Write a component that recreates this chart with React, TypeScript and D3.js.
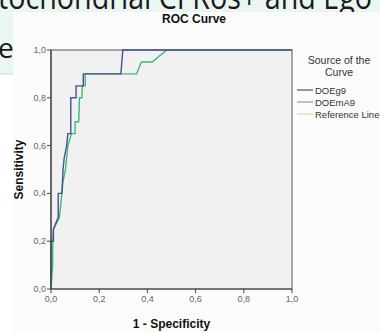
import * as d3 from 'd3';

// ROC data: [1 - specificity, sensitivity]
const doeg9: [number, number][] = [
  [0, 0], [0, 0.2], [0.01, 0.2], [0.01, 0.25], [0.03, 0.3], [0.03, 0.4],
  [0.045, 0.4], [0.05, 0.5], [0.055, 0.55], [0.065, 0.6], [0.07, 0.65],
  [0.082, 0.65], [0.082, 0.8], [0.104, 0.8], [0.104, 0.85], [0.134, 0.85],
  [0.134, 0.9], [0.29, 0.9], [0.298, 1.0], [1, 1],
];

const doema9: [number, number][] = [
  [0, 0], [0.007, 0.1], [0.007, 0.2], [0.01, 0.25], [0.035, 0.3],
  [0.045, 0.4], [0.05, 0.45], [0.06, 0.5], [0.07, 0.6], [0.085, 0.65],
  [0.1, 0.65], [0.1, 0.7], [0.115, 0.7], [0.118, 0.8], [0.128, 0.8],
  [0.13, 0.85], [0.142, 0.85], [0.142, 0.9], [0.355, 0.9], [0.375, 0.95],
  [0.42, 0.95], [0.48, 1.0], [1, 1],
];

const tickValues = [0, 0.2, 0.4, 0.6, 0.8, 1.0];
const legendTitle = ['Source of the', 'Curve'];
const legendItems = [
  { label: 'DOEg9', color: '#555' },
  { label: 'DOEmA9', color: '#9a9a9a' },
  { label: 'Reference Line', color: '#d8dca0' },
];

const W = 380;
const H = 332;
const plot = { left: 51, right: 292, top: 50, bottom: 289 };

const fmt = (v: number) => d3.format('.1f')(v).replace('.', ',');

export default function App() {
  const x = d3.scaleLinear().domain([0, 1]).range([plot.left, plot.right]);
  const y = d3.scaleLinear().domain([0, 1]).range([plot.bottom, plot.top]);
  const line = d3.line<[number, number]>().x(d => x(d[0])).y(d => y(d[1]));

  const font = '"Liberation Sans", Arial, sans-serif';

  return (
    <svg width={W} height={H} style={{ position: 'absolute', left: 0, top: 0 }}>
      {/* slide background */}
      <rect x={0} y={0} width={W} height={H} fill="#fff" />
      <rect x={0} y={0} width={W} height={12} fill="#e9f6f2" />
      <rect x={0} y={0} width={13} height={74} fill="#e9f6f2" />
      <line x1={0} x2={13} y1={74} y2={74} stroke="#cde9e1" strokeWidth={1.5} />
      <text x={-2} y={9} fontFamily='"Open Sans", sans-serif' fontSize={32}
        fill="#1a1a1a" textLength={374} lengthAdjust="spacingAndGlyphs">
        tochondrial CI Ros+ and Ego
      </text>
      <text x={-2} y={58} fontFamily='"Open Sans", sans-serif' fontSize={28} fill="#1a1a1a">e</text>

      {/* chart image */}
      <rect x={13} y={12} width={W - 13} height={H - 12} fill="#fbfbfb" />
      <text x={194} y={23} textAnchor="middle" fontFamily={font} fontWeight="bold"
        fontSize={12} fill="#111">ROC Curve</text>

      {/* plot area */}
      <rect x={plot.left} y={plot.top} width={plot.right - plot.left}
        height={plot.bottom - plot.top} fill="#f1f1f1" stroke="#8a8a8a" strokeWidth={1.5} />

      <path d={line(doema9) ?? ''} fill="none" stroke="#3dba7e" strokeWidth={1.4} />
      <path d={line(doeg9) ?? ''} fill="none" stroke="#4c4f96" strokeWidth={1.4} />

      {/* axes */}
      <line x1={plot.left} x2={plot.left} y1={plot.top} y2={plot.bottom} stroke="#444" strokeWidth={1.2} />
      <line x1={plot.left} x2={plot.right} y1={plot.bottom} y2={plot.bottom} stroke="#444" strokeWidth={1.2} />
      {tickValues.map(t => (
        <g key={'y' + t}>
          <line x1={plot.left - 4} x2={plot.left} y1={y(t)} y2={y(t)} stroke="#444" />
          <text x={plot.left - 5} y={y(t) + 3} textAnchor="end" fontFamily={font}
            fontSize={9} fill="#666">{fmt(t)}</text>
        </g>
      ))}
      {tickValues.map(t => (
        <g key={'x' + t}>
          <line x1={x(t)} x2={x(t)} y1={plot.bottom} y2={plot.bottom + 4} stroke="#444" />
          <text x={x(t)} y={plot.bottom + 13} textAnchor="middle" fontFamily={font}
            fontSize={9} fill="#666">{fmt(t)}</text>
        </g>
      ))}
      <text x={(plot.left + plot.right) / 2} y={328} textAnchor="middle" fontFamily={font}
        fontWeight="bold" fontSize={12} fill="#111">1 - Specificity</text>
      <text transform={`translate(23,${(plot.top + plot.bottom) / 2}) rotate(-90)`}
        textAnchor="middle" fontFamily={font} fontWeight="bold" fontSize={12}
        fill="#111">Sensitivity</text>

      {/* legend */}
      {legendTitle.map((t, i) => (
        <text key={t} x={339} y={64 + i * 12} textAnchor="middle" fontFamily={font}
          fontSize={10.5} fill="#333">{t}</text>
      ))}
      {legendItems.map((d, i) => (
        <g key={d.label}>
          <line x1={297} x2={313} y1={90 + i * 12} y2={90 + i * 12} stroke={d.color} strokeWidth={1.2} />
          <text x={315} y={93.5 + i * 12} fontFamily={font} fontSize={9.5} fill="#333">{d.label}</text>
        </g>
      ))}
    </svg>
  );
}
